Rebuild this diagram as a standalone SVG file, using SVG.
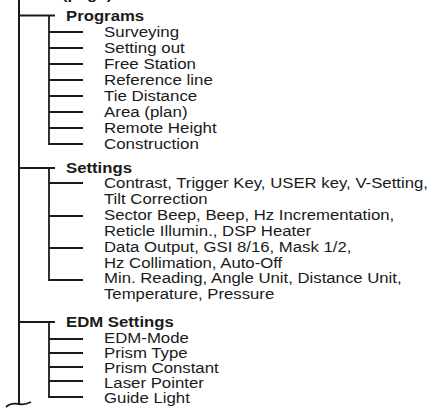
<svg xmlns="http://www.w3.org/2000/svg" width="433" height="411" viewBox="0 0 433 411">
<style>
  .ln{stroke:#1a1a1a;stroke-width:1.8;fill:none}
  .main{stroke:#1a1a1a;stroke-width:2;fill:none}
  text{font-family:"Liberation Sans",Arial,sans-serif;font-size:15.5px;fill:#1a1a1a}
  .h{font-weight:bold}
  .s{font-size:15px}
</style>
<rect width="433" height="411" fill="#fff"/>
<text class="h" transform="translate(62,-1) scale(1.08,1)">(page)</text>
<g id="connectors">
  <path class="main" d="M19,0 V404"/>
  <path class="ln" d="M6,407 C10,403 14,403 19,404 C24,405 27,404 31,402"/>
  <path class="ln" d="M19,15.5 H55 M49,15.5 V144 H83 M49,32 H83 M49,48 H83 M49,64 H83 M49,80 H83 M49,96 H83 M49,112 H83 M49,128 H83"/>
  <path class="ln" d="M19,168 H55 M49,168 V280 H83 M49,183 H83 M49,216 H83 M49,248 H83"/>
  <path class="ln" d="M19,322 H55 M49,322 V397 H83 M49,339 H83 M49,353 H83 M49,367 H83 M49,381 H83"/>
</g>
<g id="programs">
  <text class="h" transform="translate(66,20.5) scale(1.08,1)">Programs</text>
  <text transform="translate(104,36.5) scale(1.09,1)">Surveying</text>
  <text transform="translate(104,52.5) scale(1.09,1)">Setting out</text>
  <text transform="translate(104,68.5) scale(1.09,1)">Free Station</text>
  <text transform="translate(104,84.5) scale(1.09,1)">Reference line</text>
  <text transform="translate(104,100.5) scale(1.09,1)">Tie Distance</text>
  <text transform="translate(104,116.5) scale(1.09,1)">Area (plan)</text>
  <text transform="translate(104,132.5) scale(1.09,1)">Remote Height</text>
  <text transform="translate(104,148.5) scale(1.09,1)">Construction</text>
</g>
<g id="settings">
  <text class="h" transform="translate(66,172.5) scale(1.08,1)">Settings</text>
  <text transform="translate(104,188) scale(1.08,1)">Contrast, Trigger Key, USER key, V-Setting,</text>
  <text transform="translate(104,204) scale(1.08,1)">Tilt Correction</text>
  <text transform="translate(104,220) scale(1.08,1)">Sector Beep, Beep, Hz Incrementation,</text>
  <text transform="translate(104,236) scale(1.08,1)">Reticle Illumin., DSP Heater</text>
  <text transform="translate(104,251.5) scale(1.08,1)">Data Output, GSI 8/16, Mask 1/2,</text>
  <text transform="translate(104,267.5) scale(1.08,1)">Hz Collimation, Auto-Off</text>
  <text transform="translate(104,283) scale(1.08,1)">Min. Reading, Angle Unit, Distance Unit,</text>
  <text transform="translate(104,299) scale(1.08,1)">Temperature, Pressure</text>
</g>
<g id="edm">
  <text class="h" transform="translate(66,327) scale(1.08,1)">EDM Settings</text>
  <text class="s" transform="translate(104,342.5) scale(1.12,1)">EDM-Mode</text>
  <text class="s" transform="translate(104,357.5) scale(1.12,1)">Prism Type</text>
  <text class="s" transform="translate(104,372.5) scale(1.12,1)">Prism Constant</text>
  <text class="s" transform="translate(104,387.5) scale(1.12,1)">Laser Pointer</text>
  <text class="s" transform="translate(104,402.5) scale(1.12,1)">Guide Light</text>
</g>
</svg>
